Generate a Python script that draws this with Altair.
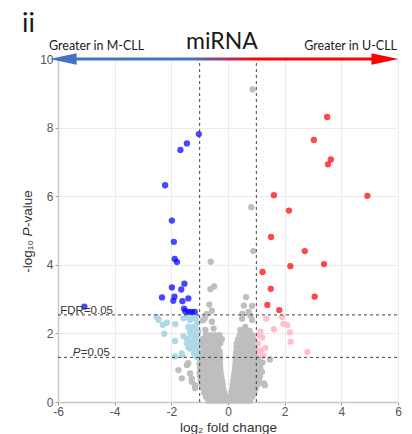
import altair as alt
import pandas as pd

FONT = "Liberation Sans"
TITLE_FONT = "Lato"

# Thresholds
FC_CUT = 1.0          # |log2 fold change|
FDR_CUT = 2.54        # -log10 P at FDR = 0.05
P_CUT = 1.301         # -log10(0.05)

# Significant (FDR) and higher in M-CLL
blue_fc = [-1.03, -1.45, -1.68, -2.22, -1.98, -1.91, -1.88, -1.80, -1.54, -1.98, -1.65,
           -2.33, -1.89, -1.93, -1.61, -1.40, -1.55, -1.50, -1.38, -1.28, -1.17, -5.07]
blue_p = [7.81, 7.54, 7.35, 6.32, 5.29, 4.67, 4.17, 4.08, 3.45, 3.34, 3.28,
          3.05, 3.07, 2.95, 2.94, 3.02, 2.72, 2.64, 2.63, 2.63, 2.63, 2.78]

# Nominal P < 0.05 only, higher in M-CLL
lightblue_fc = [-2.52, -2.45, -2.16, -2.30, -1.86, -2.25, -1.87, -1.57, -1.45, -1.40,
                -1.87, -1.61, -1.22, -1.28, -1.18, -1.34, -1.22, -1.16, -1.10, -1.20,
                -1.45, -1.57, -1.40, -1.16, -1.34, -1.10, -1.45, -1.28, -1.16, -1.34,
                -1.63, -1.10, -1.05, -1.08, -1.25, -1.05, -1.30, -1.12]
lightblue_p = [2.48, 2.40, 2.31, 2.25, 2.27, 1.99, 1.78, 1.92, 1.71, 1.59,
               1.33, 1.37, 2.19, 2.10, 1.95, 2.39, 2.44, 1.80, 1.46, 1.42,
               2.48, 2.44, 2.19, 2.15, 2.05, 1.90, 1.85, 1.76, 1.66, 1.56,
               1.42, 1.32, 2.05, 2.30, 1.60, 1.55, 1.95, 2.45]

# Nominal P < 0.05 only, higher in U-CLL
pink_fc = [1.35, 1.91, 1.95, 2.09, 1.62, 2.19, 2.21, 2.80, 1.21, 1.09, 1.32, 1.17,
           1.12, 1.05, 1.25, 1.15]
pink_p = [2.43, 2.48, 2.28, 2.24, 2.12, 2.03, 1.76, 1.46, 1.88, 1.95, 1.58, 1.51,
          1.42, 1.70, 1.35, 2.05]

# Significant (FDR) and higher in U-CLL
red_fc = [3.50, 3.03, 3.63, 3.53, 1.62, 4.92, 2.15, 1.52, 2.71, 3.39, 2.20, 1.22,
          1.51, 3.06, 1.39, 1.81]
red_p = [8.31, 7.64, 7.07, 6.93, 6.03, 6.01, 5.58, 4.81, 4.40, 4.02, 3.96, 3.79,
         3.30, 3.07, 2.83, 2.68]

# Non-significant miRNAs away from the central cloud
gray_fc = [0.87, 0.82, 0.89, -0.61, -0.49, -0.62, 0.64, -0.66, 0.56, 0.85, -0.57,
           0.73, 0.51, -0.76, -0.82, 0.79, 0.50, 0.85, -0.57, -0.88, 0.61, -0.51,
           0.44, -0.80, 0.67, -1.45, -1.63, -1.28, -1.16, -1.75, -1.34, -1.40,
           -1.28, -1.16, 1.30, 1.20, 1.27, 1.48, 1.22]
gray_p = [9.11, 5.68, 4.40, 4.09, 3.37, 3.29, 3.06, 2.84, 2.81, 2.80, 2.66,
          2.63, 2.57, 2.56, 2.44, 2.52, 2.43, 2.39, 2.34, 2.38, 2.19, 2.14,
          2.10, 2.10, 2.00, 1.08, 0.69, 0.69, 0.49, 0.93, 0.83, 1.13,
          0.59, 0.40, 0.49, 0.88, 0.54, 1.24, 1.15]

# Central cloud of non-significant miRNAs, listed band by band (-log10 P of each band)
cloud_p = [0.04, 0.15, 0.27, 0.39, 0.51, 0.63, 0.75, 0.87, 0.99, 1.11, 1.23, 1.35,
           1.47, 1.59, 1.71, 1.83, 1.95, 2.07]
cloud_fc = [
    [-0.70, -0.56, -0.42, -0.28, -0.14, 0.00, 0.14, 0.28, 0.42, 0.56, 0.70, 0.78],
    [-0.78, -0.63, -0.49, -0.35, -0.21, -0.07, 0.07, 0.21, 0.35, 0.49, 0.63, 0.77, 0.86],
    [-0.84, -0.70, -0.55, -0.41, -0.27, -0.13, 0.12, 0.26, 0.40, 0.55, 0.70, 0.85, 0.93],
    [-0.88, -0.74, -0.59, -0.45, -0.31, -0.17, 0.15, 0.29, 0.44, 0.59, 0.74, 0.89, 0.98],
    [-0.93, -0.78, -0.63, -0.48, -0.33, -0.19, 0.17, 0.32, 0.47, 0.62, 0.77, 0.92, 1.05],
    [-0.96, -0.81, -0.66, -0.51, -0.36, -0.21, 0.19, 0.34, 0.50, 0.65, 0.80, 0.95, 1.10],
    [-0.99, -0.84, -0.69, -0.54, -0.39, -0.24, 0.21, 0.37, 0.52, 0.68, 0.84, 0.99, 1.13],
    [-1.00, -0.85, -0.70, -0.55, -0.40, -0.26, 0.23, 0.39, 0.55, 0.71, 0.87, 1.02, 1.15],
    [-0.99, -0.84, -0.69, -0.54, -0.40, -0.27, 0.25, 0.41, 0.57, 0.73, 0.89, 1.04, 1.14],
    [-1.00, -0.85, -0.70, -0.55, -0.41, -0.28, 0.26, 0.42, 0.58, 0.75, 0.91, 1.06, 1.13],
    [-0.98, -0.83, -0.68, -0.53, -0.39, -0.28, 0.27, 0.43, 0.60, 0.77, 0.93, 1.08],
    [-0.96, -0.81, -0.66, -0.51, -0.38, -0.29, 0.28, 0.44, 0.61, 0.78, 0.95, 1.06],
    [-0.94, -0.79, -0.64, -0.50, -0.37, -0.29, 0.29, 0.45, 0.62, 0.79, 0.96],
    [-0.92, -0.77, -0.62, -0.48, -0.35, 0.30, 0.46, 0.63, 0.80, 0.95],
    [-0.95, -0.80, -0.65, -0.50, -0.37, -0.27, 0.31, 0.47, 0.64, 0.81, 0.93],
    [-0.90, -0.75, -0.60, -0.45, -0.32, -0.22, 0.36, 0.50, 0.66, 0.82, 0.90],
    [-0.78, -0.62, -0.46, -0.30, 0.41, 0.55, 0.70, 0.86],
    [0.46, 0.60, 0.76],
]

# Direction arrow along the top edge (log2 fold change units)
arrow_left_center = -5.82
arrow_right_center = 5.54
arrow_shaft = (-5.5, 5.3)

PAD_L, PAD_T = 58, 59
W, H = 340, 343

x_scale = alt.Scale(domain=[-6, 6], nice=False, zero=False)
y_scale = alt.Scale(domain=[0, 10], nice=False, zero=False)

odd_hidden = {"condition": {"test": "datum.value % 2 !== 0", "value": 0}, "value": 1}
axis_common = dict(
    grid=True, gridColor="#EBEBEB", gridWidth=1,
    domainColor="#C8C8C8", domainWidth=1.5,
    tickColor="#9A9A9A", tickSize=3, tickOpacity=odd_hidden,
    labelColor="#555555", labelFontSize=12, labelFont=FONT,
    labelExpr="datum.value % 2 === 0 ? '' + datum.value : ''",
    labelOverlap=False, labelFlush=False,
)
x_axis = alt.Axis(values=list(range(-6, 7)), labelPadding=1,
                  title="log₂ fold change", titleFont=FONT, titleFontSize=13.5,
                  titleFontWeight="normal", titleColor="#333333", titlePadding=3,
                  **axis_common)
y_axis = alt.Axis(values=list(range(0, 11)), labelPadding=2, title=None, **axis_common)

x_enc = alt.X("fc:Q", scale=x_scale, axis=x_axis)
y_enc = alt.Y("p:Q", scale=y_scale, axis=y_axis)


def points(fc, p, color, opacity):
    df = pd.DataFrame({"fc": fc, "p": p})
    return alt.Chart(df).mark_circle(size=40, color=color, opacity=opacity).encode(
        x=x_enc, y=y_enc)


all_gray_fc = gray_fc + [u for row in cloud_fc for u in row]
all_gray_p = gray_p + [v for v, row in zip(cloud_p, cloud_fc) for _ in row]

gray_layer = points(all_gray_fc, all_gray_p, "#BEBEBE", 1)
lightblue_layer = points(lightblue_fc, lightblue_p, "#ADD8E6", 1)
pink_layer = points(pink_fc, pink_p, "#FFC0CB", 1)
blue_layer = points(blue_fc, blue_p, "#0000FF", 0.72)
red_layer = points(red_fc, red_p, "#FF0000", 0.72)

# Dashed threshold lines
vlines = alt.Chart(pd.DataFrame({"fc": [-FC_CUT, FC_CUT]})).mark_rule(
    color="#444444", strokeDash=[3, 3], strokeWidth=1).encode(
    x=alt.X("fc:Q", scale=x_scale), y=alt.datum(0), y2=alt.datum(10))
hlines = alt.Chart(pd.DataFrame({"p": [FDR_CUT, P_CUT]})).mark_rule(
    color="#444444", strokeDash=[3, 3], strokeWidth=1).encode(
    y=alt.Y("p:Q", scale=y_scale), x=alt.datum(-6), x2=alt.datum(6))

one = pd.DataFrame({"k": [0]})

fdr_label = alt.Chart(one).mark_text(
    text="FDR=0.05", font=FONT, fontSize=11.5, color="#333333",
    align="left", baseline="alphabetic", dy=-1).encode(
    x=alt.datum(-5.92), y=alt.datum(FDR_CUT))
p_label_p = alt.Chart(one).mark_text(
    text="P", font=FONT, fontSize=11.5, fontStyle="italic", color="#333333",
    align="left", baseline="alphabetic", dy=-1).encode(
    x=alt.datum(-5.48), y=alt.datum(P_CUT))
p_label_rest = alt.Chart(one).mark_text(
    text="=0.05", font=FONT, fontSize=11.5, color="#333333",
    align="left", baseline="alphabetic", dy=-1, dx=8).encode(
    x=alt.datum(-5.48), y=alt.datum(P_CUT))

# Blue-to-red direction arrow
gradient = alt.LinearGradient(
    gradient="linear", x1=0, x2=1, y1=0, y2=0,
    stops=[alt.GradientStop(color="#4472C4", offset=0),
           alt.GradientStop(color="#4472C4", offset=0.40),
           alt.GradientStop(color="#FF0000", offset=0.61),
           alt.GradientStop(color="#FF0000", offset=1)])
shaft = alt.Chart(one).mark_rect(color=gradient).encode(
    x=alt.datum(arrow_shaft[0]), x2=alt.datum(arrow_shaft[1]),
    y=alt.datum(9.955), y2=alt.datum(10.045))
head_left = alt.Chart(one).mark_point(
    shape="M-1,0L1,-0.42L1,0.42Z", size=729, filled=True, color="#4472C4",
    opacity=1, strokeWidth=0).encode(x=alt.datum(arrow_left_center), y=alt.datum(10))
head_right = alt.Chart(one).mark_point(
    shape="M1,0L-1,-0.42L-1,0.42Z", size=729, filled=True, color="#FF0000",
    opacity=1, strokeWidth=0).encode(x=alt.datum(arrow_right_center), y=alt.datum(10))


def label(text, x, y, size, align="left", font=TITLE_FONT, style="normal",
          angle=0, color="#1A1A1A", baseline="alphabetic"):
    return alt.Chart(one).mark_text(
        text=text, font=font, fontSize=size, fontStyle=style, align=align,
        baseline=baseline, angle=angle, color=color).encode(
        x=alt.value(x - PAD_L), y=alt.value(y - PAD_T))


texts = [
    label("ii", 22, 32, 27),
    label("miRNA", 222, 49, 23, align="center"),
    label("Greater in M-CLL", 49, 50, 12.5),
    label("Greater in U-CLL", 397, 50, 12.5, align="right"),
    # y-axis title: -log10 P-value
    label("-log₁₀", 32, 240, 13.5, align="right", font=FONT, angle=270, color="#333333"),
    label("P", 32, 232, 13.5, align="center", font=FONT, style="italic", angle=270,
          color="#333333"),
    label("-value", 32, 227, 13.5, align="left", font=FONT, angle=270, color="#333333"),
]

chart = alt.layer(
    gray_layer, lightblue_layer, pink_layer, blue_layer, red_layer,
    vlines, hlines, fdr_label, p_label_p, p_label_rest,
    shaft, head_left, head_right, *texts,
).properties(
    width=W, height=H,
    autosize=alt.AutoSizeParams(type="none"),
    padding={"left": PAD_L, "top": PAD_T, "right": 412 - PAD_L - W, "bottom": 434 - PAD_T - H},
).configure_view(
    stroke="#C8C8C8", strokeWidth=1.5
).configure(background="white")

chart.save("out.html", embed_options={"renderer": "svg", "actions": False})
